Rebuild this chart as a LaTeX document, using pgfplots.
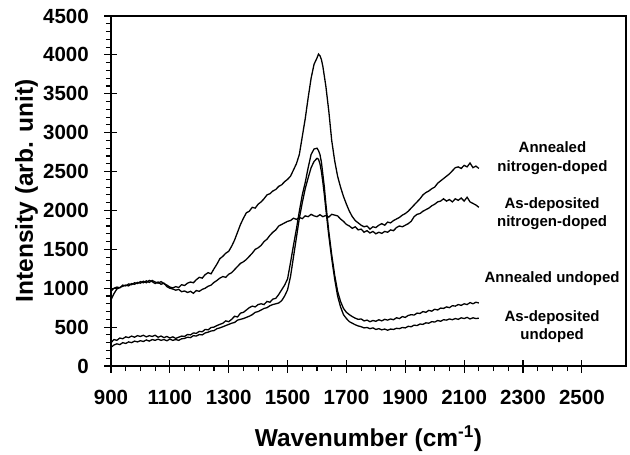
\documentclass[border=0pt]{standalone}
\usepackage{fontspec}
\setmainfont{Liberation Sans}
\usepackage{pgfplots}
\pgfplotsset{compat=1.18}
\begin{document}
\begin{tikzpicture}
\begin{axis}[
  name=ax,
  scale only axis,
  width=515bp, height=350bp,
  xmin=900, xmax=2650, ymin=0, ymax=4500,
  xtick={900,1100,...,2500},
  ytick={0,500,...,4500},
  minor x tick num=3,
  minor y tick num=4,
  tick pos=left,
  scaled ticks=false,
  /pgf/number format/1000 sep={},
  /pgf/number format/assume math mode=true,
  tick label style={font=\fontsize{20.5bp}{24bp}\selectfont\bfseries, inner sep=0pt},
  xticklabel style={anchor=north, yshift=-11bp},
  yticklabel style={anchor=east, xshift=-9bp},
  tick align=outside,
  major tick length=13bp,
  minor tick length=5bp,
  major x tick style={yshift=6.5bp},
  major y tick style={xshift=6.5bp},
  tick style={line width=1.2bp, black},
  axis line style={line width=1.2bp},
  xlabel={Wavenumber (cm\textsuperscript{-1})},
  ylabel={Intensity (arb. unit)},
  label style={font=\fontsize{24.5bp}{28bp}\selectfont\bfseries},
  xlabel style={at={(axis description cs:0.5,-0.2306)}, anchor=base, inner sep=0pt},
  ylabel style={at={(axis description cs:-0.1515,0.5)}, anchor=base, rotate=0, inner sep=0pt},
]
% Annealed nitrogen-doped
\addplot[black, line width=1.3bp] coordinates {
(900,960)(910,1000)(920,1015)(930,1005)(940,1040)(950,1030)(960,1055)(970,1045)(980,1070)(990,1060)
(1000,1085)(1010,1070)(1020,1095)(1030,1075)(1040,1100)(1050,1080)(1060,1065)(1070,1085)(1080,1060)(1090,1040)
(1100,1015)(1110,1005)(1120,1020)(1130,1010)(1140,1045)(1150,1035)(1160,1065)(1170,1080)(1180,1070)(1190,1110)
(1200,1140)(1210,1130)(1220,1175)(1230,1200)(1240,1185)(1250,1250)(1260,1310)(1270,1380)(1280,1410)(1290,1450)
(1300,1475)(1310,1540)(1320,1620)(1330,1720)(1340,1820)(1350,1900)(1360,1970)(1370,1990)(1380,2040)(1390,2030)
(1400,2080)(1410,2110)(1420,2150)(1430,2200)(1440,2215)(1450,2250)(1460,2270)(1470,2310)(1480,2330)(1490,2370)
(1500,2400)(1510,2440)(1520,2520)(1530,2600)(1540,2720)(1550,2950)(1560,3180)(1570,3450)(1580,3700)(1590,3880)
(1600,3960)(1605,4010)(1610,3990)(1615,3940)(1620,3850)(1630,3600)(1640,3280)(1650,2900)(1660,2640)(1670,2440)
(1680,2300)(1690,2180)(1700,2080)(1710,1990)(1720,1920)(1730,1870)(1740,1840)(1750,1810)(1760,1790)(1770,1800)
(1780,1760)(1790,1790)(1800,1780)(1810,1810)(1820,1830)(1830,1810)(1840,1850)(1850,1840)(1860,1870)(1870,1890)
(1880,1910)(1890,1940)(1900,1960)(1910,1990)(1920,2030)(1930,2070)(1940,2110)(1950,2150)(1960,2200)(1970,2230)
(1980,2250)(1990,2280)(2000,2300)(2010,2350)(2020,2380)(2030,2410)(2040,2440)(2050,2470)(2060,2510)(2070,2550)
(2080,2560)(2090,2540)(2100,2580)(2110,2560)(2120,2610)(2130,2550)(2140,2570)(2150,2540)
};
% As-deposited nitrogen-doped
\addplot[black, line width=1.3bp] coordinates {
(900,850)(910,930)(920,990)(930,1010)(940,1025)(950,1040)(960,1030)(970,1060)(980,1050)(990,1075)
(1000,1065)(1010,1090)(1020,1070)(1030,1100)(1040,1085)(1050,1060)(1060,1080)(1070,1050)(1080,1065)(1090,1020)
(1100,1000)(1110,990)(1120,975)(1130,985)(1140,955)(1150,965)(1160,945)(1170,960)(1180,935)(1190,970)
(1200,960)(1210,985)(1220,1000)(1230,1025)(1240,1040)(1250,1075)(1260,1100)(1270,1130)(1280,1150)(1290,1140)
(1300,1180)(1310,1200)(1320,1240)(1330,1280)(1340,1320)(1350,1340)(1360,1370)(1370,1410)(1380,1450)(1390,1500)
(1400,1520)(1410,1550)(1420,1600)(1430,1630)(1440,1680)(1450,1720)(1460,1750)(1470,1800)(1480,1820)(1490,1840)
(1500,1860)(1510,1870)(1520,1900)(1530,1885)(1540,1910)(1550,1895)(1560,1930)(1570,1920)(1580,1950)(1590,1930)
(1600,1920)(1610,1945)(1620,1920)(1630,1935)(1640,1915)(1650,1950)(1660,1940)(1670,1930)(1680,1890)(1690,1860)
(1700,1820)(1710,1800)(1720,1770)(1730,1790)(1740,1750)(1750,1760)(1760,1720)(1770,1740)(1780,1710)(1790,1730)
(1800,1700)(1810,1720)(1820,1705)(1830,1730)(1840,1720)(1850,1750)(1860,1740)(1870,1780)(1880,1800)(1890,1790)
(1900,1810)(1910,1830)(1920,1860)(1930,1920)(1940,1950)(1950,1960)(1960,1990)(1970,2010)(1980,2030)(1990,2060)
(2000,2080)(2010,2110)(2020,2120)(2030,2150)(2040,2120)(2050,2140)(2060,2110)(2070,2150)(2080,2130)(2090,2160)
(2100,2120)(2110,2170)(2120,2110)(2130,2090)(2140,2070)(2150,2040)
};
% Annealed undoped
\addplot[black, line width=1.3bp] coordinates {
(900,300)(910,340)(920,330)(930,360)(940,350)(950,375)(960,365)(970,385)(980,370)(990,390)
(1000,380)(1010,395)(1020,375)(1030,390)(1040,380)(1050,395)(1060,370)(1070,385)(1080,365)(1090,380)
(1100,360)(1110,375)(1120,355)(1130,370)(1140,385)(1150,380)(1160,405)(1170,400)(1180,425)(1190,420)
(1200,445)(1210,440)(1220,470)(1230,465)(1240,495)(1250,500)(1260,520)(1270,535)(1280,550)(1290,580)
(1300,570)(1310,600)(1320,640)(1330,630)(1340,680)(1350,690)(1360,720)(1370,750)(1380,770)(1390,760)
(1400,790)(1410,800)(1420,790)(1430,830)(1440,820)(1450,860)(1460,870)(1470,920)(1480,980)(1490,1040)
(1500,1120)(1510,1330)(1520,1550)(1530,1760)(1540,1990)(1550,2200)(1560,2360)(1570,2550)(1580,2720)(1590,2790)
(1600,2800)(1605,2770)(1610,2720)(1615,2620)(1620,2460)(1625,2300)(1630,2090)(1640,1730)(1650,1430)(1660,1170)
(1670,960)(1680,830)(1690,740)(1700,690)(1710,660)(1720,635)(1730,615)(1740,600)(1750,605)(1760,580)
(1770,590)(1780,570)(1790,585)(1800,575)(1810,595)(1820,580)(1830,600)(1840,590)(1850,605)(1860,595)
(1870,620)(1880,610)(1890,635)(1900,625)(1910,650)(1920,660)(1930,655)(1940,680)(1950,675)(1960,700)
(1970,690)(1980,715)(1990,705)(2000,730)(2010,720)(2020,745)(2030,740)(2040,760)(2050,750)(2060,775)
(2070,770)(2080,790)(2090,780)(2100,800)(2110,790)(2120,815)(2130,800)(2140,820)(2150,810)
};
% As-deposited undoped
\addplot[black, line width=1.3bp] coordinates {
(900,240)(910,270)(920,285)(930,275)(940,300)(950,290)(960,310)(970,300)(980,320)(990,310)
(1000,325)(1010,315)(1020,335)(1030,320)(1040,340)(1050,330)(1060,345)(1070,330)(1080,340)(1090,325)
(1100,345)(1110,330)(1120,340)(1130,330)(1140,350)(1150,355)(1160,370)(1170,365)(1180,390)(1190,385)
(1200,405)(1210,400)(1220,425)(1230,435)(1240,450)(1250,455)(1260,480)(1270,490)(1280,505)(1290,520)
(1300,535)(1310,550)(1320,560)(1330,590)(1340,600)(1350,610)(1360,625)(1370,640)(1380,660)(1390,690)
(1400,700)(1410,720)(1420,740)(1430,750)(1440,775)(1450,790)(1460,800)(1470,810)(1480,840)(1490,900)
(1500,980)(1510,1150)(1520,1400)(1530,1650)(1540,1900)(1550,2100)(1560,2280)(1570,2420)(1580,2550)(1590,2630)
(1600,2670)(1605,2660)(1610,2600)(1615,2500)(1620,2360)(1625,2200)(1630,2020)(1640,1680)(1650,1380)(1660,1120)
(1670,900)(1680,760)(1690,660)(1700,610)(1710,570)(1720,550)(1730,530)(1740,515)(1750,505)(1760,490)
(1770,495)(1780,480)(1790,490)(1800,470)(1810,480)(1820,465)(1830,475)(1840,460)(1850,475)(1860,470)
(1870,485)(1880,480)(1890,495)(1900,490)(1910,510)(1920,505)(1930,525)(1940,520)(1950,540)(1960,535)
(1970,555)(1980,550)(1990,570)(2000,565)(2010,585)(2020,575)(2030,595)(2040,590)(2050,605)(2060,595)
(2070,610)(2080,600)(2090,620)(2100,610)(2110,625)(2120,605)(2130,620)(2140,610)(2150,615)
};
\node[anchor=north, align=center, inner sep=0pt, font=\fontsize{15bp}{18.5bp}\selectfont\bfseries] at (axis cs:2400,2884) {Annealed\\nitrogen-doped};
\node[anchor=north, align=center, inner sep=0pt, font=\fontsize{15bp}{18.5bp}\selectfont\bfseries] at (axis cs:2399,2169) {As-deposited\\nitrogen-doped};
\node[anchor=north, align=center, inner sep=0pt, font=\fontsize{15bp}{18.5bp}\selectfont\bfseries] at (axis cs:2399,1213) {Annealed undoped};
\node[anchor=north, align=center, inner sep=0pt, font=\fontsize{15bp}{18.5bp}\selectfont\bfseries] at (axis cs:2399,720) {As-deposited\\undoped};
\end{axis}
\pgfresetboundingbox
\path ([xshift=-111bp,yshift=-89bp]ax.south west) rectangle ([xshift=519bp,yshift=366bp]ax.south west);
\end{tikzpicture}
\end{document}
